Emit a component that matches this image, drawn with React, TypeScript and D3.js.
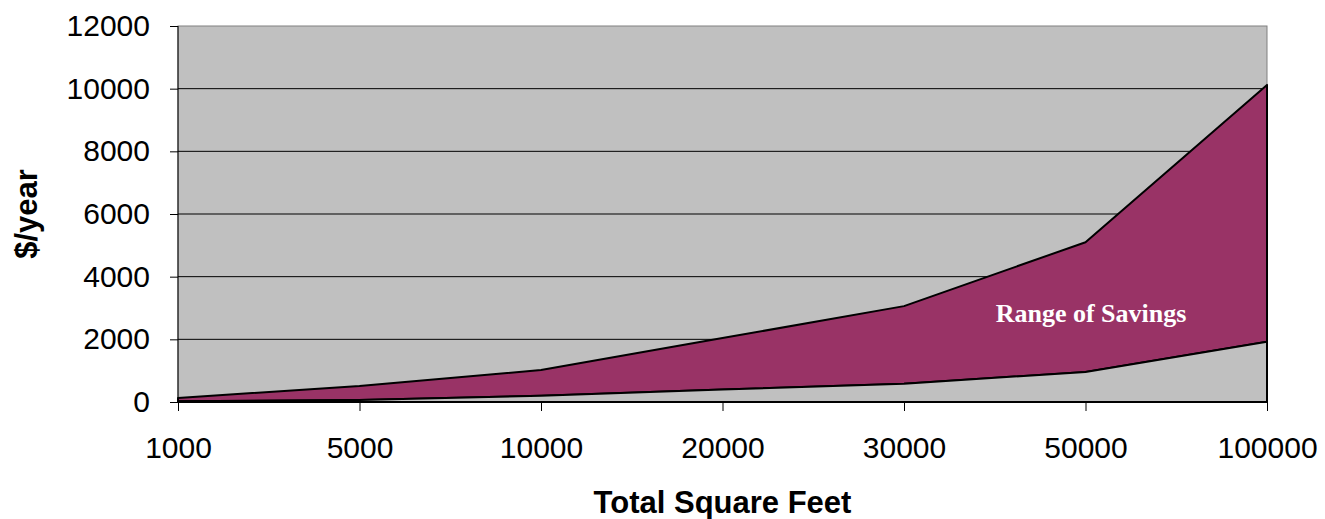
import { useRef, useEffect } from 'react';
import * as d3 from 'd3';

const categories = ['1000', '5000', '10000', '20000', '30000', '50000', '100000'];
const lowSavings = [20, 60, 200, 400, 580, 960, 1920];
const highSavings = [130, 510, 1020, 2040, 3060, 5100, 10120];
const yTicks = [0, 2000, 4000, 6000, 8000, 10000, 12000];

export default function App() {
  const svgRef = useRef<SVGSVGElement>(null);

  useEffect(() => {
    if (!svgRef.current) return;
    const width = 1325;
    const height = 519;
    const margin = { top: 26, right: 58, bottom: 117, left: 178 };
    const innerW = width - margin.left - margin.right;
    const innerH = height - margin.top - margin.bottom;

    const svg = d3.select(svgRef.current);
    svg.selectAll('*').remove();
    svg.attr('width', width).attr('height', height);

    const g = svg.append('g').attr('transform', `translate(${margin.left},${margin.top})`);

    const xScale = d3.scalePoint<string>().domain(categories).range([0, innerW]);
    const yScale = d3.scaleLinear().domain([0, 12000]).range([innerH, 0]);

    // Plot background
    g.append('rect')
      .attr('width', innerW)
      .attr('height', innerH)
      .attr('fill', '#c0c0c0')
      .attr('stroke', '#808080');

    // Gridlines
    g.selectAll('.grid')
      .data(yTicks.filter(t => t > 0 && t < 12000))
      .enter()
      .append('line')
      .attr('x1', 0)
      .attr('x2', innerW)
      .attr('y1', d => yScale(d))
      .attr('y2', d => yScale(d))
      .attr('stroke', '#000')
      .attr('stroke-width', 1);

    const rows = categories.map((c, i) => ({ c, low: lowSavings[i], high: highSavings[i] }));

    // Range of savings (stacked band)
    const band = d3.area<typeof rows[number]>()
      .x(d => xScale(d.c)!)
      .y0(d => yScale(d.low))
      .y1(d => yScale(d.high));
    g.append('path')
      .datum(rows)
      .attr('d', band)
      .attr('fill', '#993366')
      .attr('stroke', '#000')
      .attr('stroke-width', 2)
      .attr('stroke-linejoin', 'round');

    // Lower series
    const lower = d3.area<typeof rows[number]>()
      .x(d => xScale(d.c)!)
      .y0(yScale(0))
      .y1(d => yScale(d.low));
    g.append('path')
      .datum(rows)
      .attr('d', lower)
      .attr('fill', '#c0c0c0')
      .attr('stroke', '#000')
      .attr('stroke-width', 2)
      .attr('stroke-linejoin', 'round');

    // Y axis
    const yAxis = g.append('g')
      .call(d3.axisLeft(yScale).tickValues(yTicks).tickSize(8).tickPadding(20).tickFormat(d => `${d}`));
    yAxis.select('.domain').attr('stroke', '#000').attr('d', `M0,0V${innerH}`);
    yAxis.selectAll('.tick line').attr('stroke', '#000');
    yAxis.selectAll('.tick text')
      .attr('fill', '#000')
      .attr('font-size', '30px')
      .attr('font-family', 'Liberation Sans, Arial, sans-serif');

    // X axis
    const xAxis = g.append('g')
      .attr('transform', `translate(0,${innerH})`)
      .call(d3.axisBottom(xScale).tickSize(9).tickPadding(26));
    xAxis.select('.domain').attr('stroke', '#000').attr('stroke-width', 2).attr('d', `M0,0H${innerW}`);
    xAxis.selectAll('.tick line').attr('stroke', '#000');
    xAxis.selectAll('.tick text')
      .attr('fill', '#000')
      .attr('font-size', '30px')
      .attr('font-family', 'Liberation Sans, Arial, sans-serif');

    // Axis titles
    svg.append('text')
      .attr('x', margin.left + innerW / 2)
      .attr('y', 513)
      .attr('text-anchor', 'middle')
      .attr('font-size', '31px')
      .attr('font-weight', 'bold')
      .attr('font-family', 'Liberation Sans, Arial, sans-serif')
      .text('Total Square Feet');

    svg.append('text')
      .attr('transform', `translate(37,${margin.top + innerH / 2}) rotate(-90)`)
      .attr('text-anchor', 'middle')
      .attr('font-size', '31px')
      .attr('font-weight', 'bold')
      .attr('font-family', 'Liberation Sans, Arial, sans-serif')
      .text('$/year');

    // Band label
    svg.append('text')
      .attr('x', 1091)
      .attr('y', 322)
      .attr('text-anchor', 'middle')
      .attr('fill', '#fff')
      .attr('font-size', '26px')
      .attr('font-weight', 'bold')
      .attr('font-family', 'Liberation Serif, Times New Roman, serif')
      .text('Range of Savings');
  }, []);

  return (
    <div style={{ position: 'fixed', left: 0, top: 0, width: 1325, height: 519, overflow: 'hidden', background: '#fff' }}>
      <svg ref={svgRef} style={{ display: 'block' }} />
    </div>
  );
}
